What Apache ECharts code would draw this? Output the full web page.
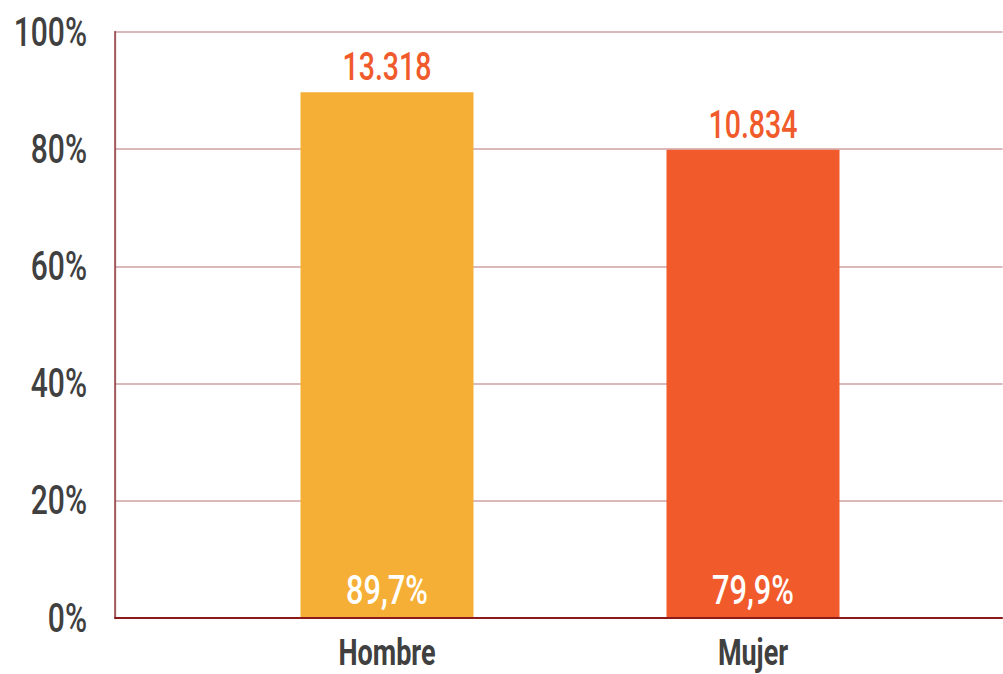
<!DOCTYPE html>
<html>
<head>
<meta charset="utf-8">
<script src="https://cdn.jsdelivr.net/npm/echarts@6/dist/echarts.min.js"></script>
<style>
html, body { margin: 0; padding: 0; background: #fff; overflow: hidden; }
#main { height: 674px; transform-origin: 0 0; }
</style>
</head>
<body>
<div id="main"></div>
<script>
var categorias = ['Hombre', 'Mujer'];
var porcentajes = [89.7, 79.9];
var totales = [13318, 10834];
var colores = ['#f5af36', '#f15a2b'];
var escalaY = { min: 0, max: 100, interval: 20 };

// original font is a narrow one: draw wider, then squeeze horizontally
var S = 0.75;
var el = document.getElementById('main');
el.style.width = (1003 / S) + 'px';
el.style.transform = 'scaleX(' + S + ')';
function px(v) { return v / S; }

function miles(v) {
    return String(v).replace(/\B(?=(\d{3})+(?!\d))/g, '.');
}

var option = {
    backgroundColor: '#fff',
    animation: false,
    textStyle: { fontFamily: 'Roboto' },
    grid: [
        { left: px(115), right: 0, top: 32, bottom: 56 },
        { left: px(204), width: px(732), top: 32, bottom: 56 }
    ],
    xAxis: [
        {
            gridIndex: 0, type: 'value', min: 0, max: 1, z: 10,
            axisLine: { show: true, lineStyle: { color: '#8b1a1a', width: 2 } },
            axisTick: { show: false },
            axisLabel: { show: false },
            splitLine: { show: false }
        },
        {
            gridIndex: 1, type: 'category', data: categorias,
            axisLine: { show: false },
            axisTick: { show: false },
            axisLabel: {
                color: '#404040', fontSize: 36, fontWeight: 'bold',
                lineHeight: 26, margin: 22
            }
        }
    ],
    yAxis: [
        {
            gridIndex: 0, type: 'value',
            min: escalaY.min, max: escalaY.max, interval: escalaY.interval,
            axisLine: { show: true, lineStyle: { color: '#a0585b', width: px(2) } },
            axisTick: { show: false },
            axisLabel: {
                formatter: '{value}%', color: '#404040', fontSize: 40,
                fontWeight: 500, margin: px(28)
            },
            splitLine: { lineStyle: { color: '#cfa2a4', width: 1.5 } }
        },
        {
            gridIndex: 1, type: 'value',
            min: escalaY.min, max: escalaY.max, interval: escalaY.interval,
            show: false
        }
    ],
    series: [
        {
            type: 'bar', xAxisIndex: 1, yAxisIndex: 1,
            data: porcentajes,
            barWidth: px(173),
            itemStyle: {
                color: function (p) { return colores[p.dataIndex]; }
            },
            label: {
                show: true, position: 'top', distance: 6,
                color: '#f15a2b', fontSize: 38, fontWeight: 500,
                formatter: function (p) { return miles(totales[p.dataIndex]); }
            }
        },
        {
            type: 'bar', xAxisIndex: 1, yAxisIndex: 1,
            data: porcentajes,
            barWidth: px(173), barGap: '-100%',
            silent: true,
            itemStyle: { color: 'rgba(0,0,0,0)' },
            label: {
                show: true, position: 'insideBottom', distance: 8,
                color: '#fff', fontSize: 41, fontWeight: 500,
                formatter: function (p) {
                    return p.value.toFixed(1).replace('.', ',') + '%';
                }
            }
        }
    ]
};

var chart = echarts.init(el, null, { renderer: 'svg' });
chart.setOption(option);
</script>
</body>
</html>
